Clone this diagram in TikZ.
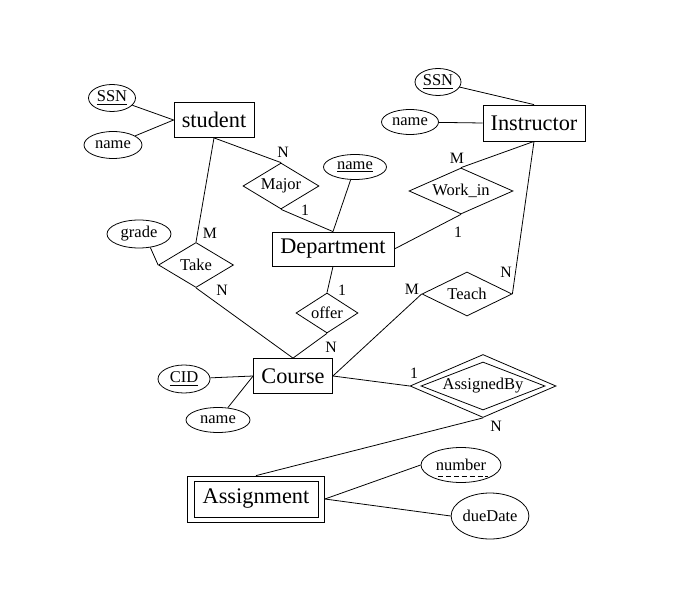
\documentclass[tikz,border=0pt]{standalone}
\usepackage{fontspec}
\setmainfont{Liberation Serif}
\usetikzlibrary{shapes.geometric,calc}
\tikzset{
  entity/.style={draw, rectangle, inner sep=0pt, font=\fontsize{12.7}{15}\selectfont},
  attr/.style={draw, ellipse, inner sep=0pt, font=\fontsize{9.4}{11}\selectfont},
  rel/.style={draw, diamond, inner sep=0pt, font=\fontsize{9.4}{11}\selectfont},
  card/.style={inner sep=0pt, font=\fontsize{9}{11}\selectfont}
}
\begin{document}
\begin{tikzpicture}[x=0.02cm, y=-0.02cm, line width=0.45pt]
\useasboundingbox (0,0) rectangle (688,590);
% entities
\node[entity, minimum width=1.6cm, minimum height=0.7cm] (student) at (214,120) {student};
\node[entity, minimum width=2.04cm, minimum height=0.72cm] (instr) at (534,123) {Instructor};
\node[entity, minimum width=2.44cm, minimum height=0.68cm] (dept) at (333,249) {Department};
\node[entity, minimum width=1.58cm, minimum height=0.7cm] (course) at (293,376) {Course};
\node[entity, minimum width=2.74cm, minimum height=0.92cm] (assign) at (256,499) {};
\node[entity, minimum width=2.48cm, minimum height=0.72cm] (assignin) at (256,499) {Assignment};
% attributes
\node[attr, minimum width=0.94cm, minimum height=0.54cm] (ssn1) at (112,98) {\underline{SSN}};
\node[attr, minimum width=1.16cm, minimum height=0.54cm] (name1) at (113,145) {name};
\node[attr, minimum width=0.92cm, minimum height=0.54cm] (ssn2) at (438,82) {\underline{SSN}};
\node[attr, minimum width=1.14cm, minimum height=0.5cm] (name2) at (410,122) {name};
\node[attr, minimum width=1.26cm, minimum height=0.5cm] (dname) at (355,167) {\underline{name}};
\node[attr, minimum width=1.28cm, minimum height=0.56cm] (grade) at (139,234) {grade};
\node[attr, minimum width=1.04cm, minimum height=0.56cm] (cid) at (184,379) {\underline{CID}};
\node[attr, minimum width=1.28cm, minimum height=0.5cm] (cname) at (218,420) {name};
\node[attr, minimum width=1.6cm, minimum height=0.7cm] (number) at (461,465) {number};
\node[attr, minimum width=1.4cm, minimum height=0.92cm] (due) at (490,516) {dueDate};
\coordinate (nul1) at ($(number.center)+(-23,11)$);
\coordinate (nul2) at ($(number.center)+(27,11)$);
\draw[dash pattern=on 3pt off 1.5pt] (nul1) -- (nul2);
% relationships
\node[rel, shape aspect=1.65, minimum width=1.52cm, minimum height=0.92cm] (major) at (281,186) {Major};
\node[rel, shape aspect=2.26, minimum width=2.08cm, minimum height=0.92cm] (workin) at (461,191) {Work\_in};
\node[rel, shape aspect=1.67, minimum width=1.5cm, minimum height=0.9cm] (take) at (196,265) {Take};
\node[rel, shape aspect=1.55, minimum width=1.24cm, minimum height=0.8cm] (offer) at (327,313) {offer};
\node[rel, shape aspect=2.05, minimum width=1.8cm, minimum height=0.88cm] (teach) at (467,294) {Teach};
\node[rel, shape aspect=2.32, minimum width=2.92cm, minimum height=1.26cm] (aby) at (483,386) {};
\node[rel, shape aspect=2.58, minimum width=2.48cm, minimum height=0.96cm] (abyin) at (483,386) {AssignedBy};
% connectors
\draw (ssn1) -- (student.west);
\draw (name1) -- (student.west);
\draw (student.south) -- (major.north);
\draw (major.south) -- (dept.north);
\draw (dname) -- (dept.north);
\draw (ssn2) -- (instr.north);
\draw (name2) -- (instr.west);
\draw (workin.north) -- (instr.south);
\draw (workin.south) -- (dept.east);
\draw (instr.south) -- (teach.east);
\draw (student.south) -- (take.north);
\draw (grade.-50) -- (take.west);
\draw (take.south) -- (course.north);
\draw (dept.south) -- (offer.north);
\draw (offer.south) -- (course.north);
\draw (cid) -- (course.west);
\draw (cname) -- (course.west);
\draw (course.east) -- (teach.west);
\draw (course.east) -- (aby.west);
\draw (aby.south) -- (assign.north);
\draw (assign.east) -- (number.west);
\draw (assign.east) -- (due.west);
% cardinalities
\node[card] (c1) at (283,152) {N};
\node[card] (c2) at (305,210) {1};
\node[card] (c3) at (457,158) {M};
\node[card] (c4) at (458,232) {1};
\node[card] (c5) at (210,233) {M};
\node[card] (c6) at (222,290) {N};
\node[card] (c7) at (342,290) {1};
\node[card] (c8) at (331,347) {N};
\node[card] (c9) at (412,289) {M};
\node[card] (c10) at (506,272) {N};
\node[card] (c11) at (414,373) {1};
\node[card] (c12) at (496,426) {N};
\end{tikzpicture}
\end{document}
